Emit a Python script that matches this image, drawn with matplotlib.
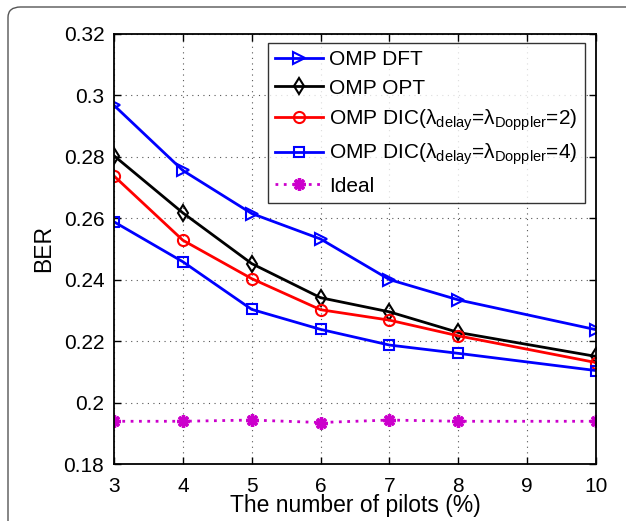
import matplotlib
matplotlib.use("Agg")
import matplotlib.pyplot as plt
from matplotlib.patches import FancyBboxPatch

plt.rcParams['font.family'] = ['Liberation Sans', 'DejaVu Sans']
plt.rcParams['mathtext.fontset'] = 'custom'
plt.rcParams['mathtext.rm'] = 'Liberation Sans'
plt.rcParams['mathtext.it'] = 'Liberation Sans:italic'
plt.rcParams['mathtext.bf'] = 'Liberation Sans:bold'

pilots = [3, 4, 5, 6, 7, 8, 10]
ber_dft = [0.2967, 0.2755, 0.2615, 0.2532, 0.2400, 0.2334, 0.2237]
ber_opt = [0.2803, 0.2617, 0.2452, 0.2341, 0.2295, 0.2228, 0.2150]
ber_dic2 = [0.2737, 0.2528, 0.2403, 0.2302, 0.2268, 0.2217, 0.2130]
ber_dic4 = [0.2588, 0.2458, 0.2303, 0.2238, 0.2187, 0.2160, 0.2104]
ber_ideal = [0.1939, 0.1939, 0.1943, 0.1935, 0.1943, 0.1939, 0.1939]

labels = ['OMP DFT', 'OMP OPT',
          r'OMP DIC(λ$_{\mathrm{delay}}$=λ$_{\mathrm{Doppler}}$=2)',
          r'OMP DIC(λ$_{\mathrm{delay}}$=λ$_{\mathrm{Doppler}}$=4)',
          'Ideal']
xticks = [3, 4, 5, 6, 7, 8, 9, 10]
yticks = [0.18, 0.20, 0.22, 0.24, 0.26, 0.28, 0.30, 0.32]

fig = plt.figure(figsize=(6.26, 5.21), dpi=100)
# rounded panel border
fig.patches.append(FancyBboxPatch((8 / 626, -0.2), 1.2, (521 - 7) / 521 + 0.2,
                                  boxstyle="round,pad=0,rounding_size=0.02",
                                  transform=fig.transFigure, fill=False,
                                  edgecolor='#555555', linewidth=1.0))
ax = fig.add_axes([114 / 626, (521 - 464) / 521, (596 - 114) / 626, (464 - 33.7) / 521])

lw = 2.0
ms = 8
ax.plot(pilots, ber_dft, color='#0000ff', lw=lw, marker='>', ms=ms + 1, mfc='none', mew=1.5, label=labels[0])
ax.plot(pilots, ber_opt, color='black', lw=lw, marker='d', ms=ms, mfc='none', mew=1.5, label=labels[1])
ax.plot(pilots, ber_dic2, color='#ff0000', lw=lw, marker='o', ms=ms, mfc='none', mew=1.5, label=labels[2])
ax.plot(pilots, ber_dic4, color='#0000ff', lw=lw, marker='s', ms=ms - 1, mfc='none', mew=1.5, label=labels[3])
ax.plot(pilots, ber_ideal, color='#cc00cc', lw=2.0, ls=(0, (1, 2)), marker=(8, 2, 0), ms=9, mew=2.4,
        label=labels[4])

ax.set_xlim(3, 10)
ax.set_ylim(0.18, 0.32)
ax.set_xticks(xticks)
ax.set_yticks(yticks)
ax.set_yticklabels(['%g' % v for v in yticks])
ax.tick_params(direction='in', top=True, right=True, labelsize=15, length=5, width=1)
ax.tick_params(axis='x', pad=9)
ax.tick_params(axis='y', pad=7)
ax.grid(True, color='#555555', ls=(0, (1, 4)), lw=0.8)
for s in ax.spines.values():
    s.set_linewidth(1.3)

ax.set_xlabel('The number of pilots (%)', fontsize=16.5, labelpad=-1)
ax.set_ylabel('BER', fontsize=16.5, labelpad=6)

leg = ax.legend(loc='upper right', bbox_to_anchor=(585 / 626, 1 - 43 / 521), bbox_transform=fig.transFigure,
                fontsize=15, frameon=True, fancybox=False, handlelength=2.3, handletextpad=0.3,
                borderpad=0.35, labelspacing=0.45, borderaxespad=0)
leg.get_frame().set_edgecolor('black')
leg.get_frame().set_linewidth(1.0)

fig.savefig('out.png', dpi=100)
